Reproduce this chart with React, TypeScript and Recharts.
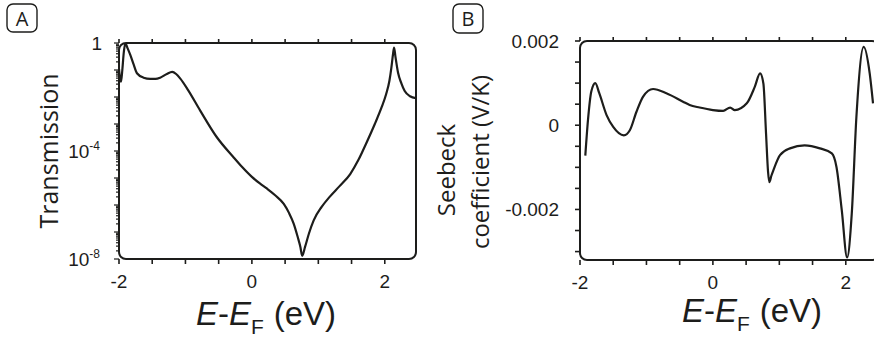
import React from "react";
import { LineChart, Line, XAxis, YAxis, ReferenceArea } from "recharts";

// panel A: transmission vs energy (log scale)
const energyA = [
  -2.0, -1.985, -1.97, -1.95, -1.93, -1.905, -1.87, -1.83, -1.78, -1.73, -1.63,
  -1.53, -1.45, -1.38, -1.28, -1.2, -1.14, -1.08, -0.96, -0.78, -0.53, -0.28,
  -0.15, 0, 0.12, 0.23, 0.35, 0.48, 0.56, 0.63, 0.69, 0.73, 0.757, 0.8, 0.86,
  0.93, 1.05, 1.17, 1.32, 1.48, 1.6, 1.72, 1.85, 1.95, 2.02, 2.07, 2.1, 2.125,
  2.14, 2.16, 2.2, 2.25, 2.3, 2.38, 2.47,
];
const transmission = [
  1.1e-1, 5.0e-2, 3.7e-2, 1.0e-1, 4.0e-1, 9.8e-1, 6.3e-1, 3.6e-1, 1.6e-1, 7.6e-2,
  5.2e-2, 4.7e-2, 4.7e-2, 5.2e-2, 7.1e-2, 8.5e-2, 7.1e-2, 4.9e-2, 1.8e-2, 3.2e-3,
  3.3e-4, 6.0e-5, 2.6e-5, 1.1e-5, 6.3e-6, 4.0e-6, 2.3e-6, 1.1e-6, 5.0e-7, 2.0e-7,
  6.5e-8, 2.8e-8, 1.3e-8, 2.8e-8, 9.0e-8, 2.7e-7, 8.5e-7, 2.0e-6, 5.0e-6, 1.4e-5,
  4.5e-5, 1.9e-4, 1.0e-3, 4.0e-3, 1.26e-2, 4.0e-2, 1.26e-1, 4.0e-1, 6.8e-1,
  3.2e-1, 7.9e-2, 3.2e-2, 1.66e-2, 1.07e-2, 9.1e-3,
];

// panel B: Seebeck coefficient vs energy
const energyB = [
  -1.92, -1.88, -1.83, -1.77, -1.71, -1.6, -1.5, -1.34, -1.25, -1.15, -1.05, -0.9,
  -0.7, -0.45, -0.35, -0.2, 0, 0.155, 0.26, 0.33, 0.51, 0.63, 0.71, 0.76, 0.8,
  0.83, 0.85, 0.88, 0.91, 1.01, 1.16, 1.38, 1.61, 1.79, 1.86, 1.94, 2.02, 2.09,
  2.16, 2.27, 2.36, 2.41,
];
const seebeck = [
  -7.2e-4, 1.2e-4, 8.0e-4, 1.0e-3, 7.6e-4, 2.4e-4, -4e-5, -2.4e-4, -1.2e-4, 3.2e-4,
  6.8e-4, 8.6e-4, 7.6e-4, 5.6e-4, 4.8e-4, 4.2e-4, 3.6e-4, 3.4e-4, 4.2e-4, 3.6e-4,
  5.2e-4, 9.1e-4, 1.23e-3, 9.9e-4, -2.0e-4, -1.1e-3, -1.35e-3, -1.2e-3, -1.07e-3,
  -7.1e-4, -5.5e-4, -4.8e-4, -5.5e-4, -6.7e-4, -9.9e-4, -2.02e-3, -3.14e-3,
  -2.1e-3, 2.0e-4, 1.86e-3, 1.23e-3, 5.2e-4,
];

const energyTicks = [-2, -1.5, -1, -0.5, 0, 0.5, 1, 1.5, 2];
const energyLabels = [-2, 0, 2];

const decades = [1e-8, 1e-7, 1e-6, 1e-5, 1e-4, 1e-3, 1e-2, 1e-1, 1];
const transmissionLabels = [1e-8, 1e-4, 1];
const transmissionTicks = decades.concat(
  decades.slice(0, -1).flatMap((d) => [2, 3, 4, 5, 6, 7, 8, 9].map((m) => m * d))
);

const seebeckTicks = [
  -0.003, -0.0025, -0.002, -0.0015, -0.001, -0.0005, 0, 0.0005, 0.001, 0.0015, 0.002,
];
const seebeckLabels = [-0.002, 0, 0.002];

const dataA = energyA.map((e, i) => ({ e, t: transmission[i] }));
const dataB = energyB.map((e, i) => ({ e, s: seebeck[i] }));

const INK = "#1d1d1b";
const TICK_FONT = "'Liberation Sans', Arial, sans-serif";
const TITLE_FONT = "'Open Sans', sans-serif";

const near = (list: number[], v: number) =>
  list.some((l) => Math.abs(l - v) <= Math.max(1e-12, Math.abs(l) * 1e-6));

const BottomTick = (props: any) => {
  const { x, y, payload } = props;
  const v = payload.value;
  return (
    <g>
      <line x1={x} x2={x} y1={y} y2={y + 5} stroke={INK} strokeWidth={1.6} />
      {near(energyLabels, v) && (
        <text x={x} y={y + 29} textAnchor="middle" fontSize={19} fontFamily={TICK_FONT} fill={INK}>
          {v}
        </text>
      )}
    </g>
  );
};

const TopTick = (props: any) => {
  const { x, y } = props;
  return <line x1={x} x2={x} y1={y} y2={y - 4} stroke={INK} strokeWidth={1.6} />;
};

const LogTick = (props: any) => {
  const { x, y, payload } = props;
  const v = payload.value;
  const major = near(decades, v);
  let label: React.ReactNode = null;
  if (near(transmissionLabels, v)) {
    const exp = Math.round(Math.log10(v));
    label =
      exp === 0 ? (
        <text x={x - 17} y={y + 7} textAnchor="end" fontSize={19} fontFamily={TICK_FONT} fill={INK}>
          1
        </text>
      ) : (
        <text x={x - 19} y={y + 7} textAnchor="end" fontSize={19} fontFamily={TICK_FONT} fill={INK}>
          10
          <tspan fontSize={12} dy={-8}>
            {exp}
          </tspan>
        </text>
      );
  }
  return (
    <g>
      <line x1={x} x2={x - (major ? 5 : 3)} y1={y} y2={y} stroke={INK} strokeWidth={1.2} />
      {label}
    </g>
  );
};

const LinTick = (props: any) => {
  const { x, y, payload } = props;
  const v = payload.value;
  return (
    <g>
      <line x1={x} x2={x - 5} y1={y} y2={y} stroke={INK} strokeWidth={1.6} />
      {near(seebeckLabels, v) && (
        <text x={x - 21} y={y + 7} textAnchor="end" fontSize={19} fontFamily={TICK_FONT} fill={INK}>
          {v === 0 ? "0" : v.toFixed(3)}
        </text>
      )}
    </g>
  );
};

const Frame = (props: any) => {
  const { x, y, width, height } = props;
  return <rect x={x} y={y} width={width} height={height} rx={7} ry={7} fill="none" stroke={INK} strokeWidth={2} />;
};

const EnergyTitle = ({ x, y }: { x: number; y: number }) => (
  <text x={x} y={y} textAnchor="middle" fontSize={33} fontFamily={TICK_FONT} fill={INK}>
    <tspan fontStyle="italic">E</tspan>-<tspan fontStyle="italic">E</tspan>
    <tspan fontSize={21} dy={9}>F</tspan>
    <tspan dy={-9} dx={10}>(eV)</tspan>
  </text>
);

export default function App() {
  return (
    <div style={{ position: "absolute", left: 0, top: 0, width: 874, height: 342, overflow: "hidden", background: "#fff" }}>
      <div style={{ position: "absolute", left: 0, top: 0 }}>
        <LineChart width={440} height={342} data={dataA} margin={{ top: 42, right: 24, bottom: 82, left: 118 }}>
          <XAxis xAxisId="bottom" dataKey="e" type="number" domain={[-2, 2.47]} allowDataOverflow
            ticks={energyTicks} interval={0} height={1} axisLine={false} tickLine={false}
            tickSize={0} tickMargin={0} tick={<BottomTick />} />
          <XAxis xAxisId="top" orientation="top" dataKey="e" type="number" domain={[-2, 2.47]} allowDataOverflow
            ticks={energyTicks} interval={0} height={1} axisLine={false} tickLine={false}
            tickSize={0} tickMargin={0} tick={<TopTick />} />
          <YAxis yAxisId="t" scale="log" type="number" domain={[1e-8, 1]} allowDataOverflow
            ticks={transmissionTicks} interval={0} width={1} axisLine={false} tickLine={false}
            tickSize={0} tickMargin={0} tick={<LogTick />} />
          <Line xAxisId="bottom" yAxisId="t" dataKey="t" type="monotone" stroke={INK} strokeWidth={2.2}
            dot={false} activeDot={false} isAnimationActive={false} />
          <ReferenceArea xAxisId="bottom" yAxisId="t" x1={-2} x2={2.47} y1={1e-8} y2={1}
            ifOverflow="visible" shape={<Frame />} />
        </LineChart>
      </div>
      <div style={{ position: "absolute", left: 430, top: 0 }}>
        <LineChart width={460} height={342} data={dataB} margin={{ top: 40, right: 11, bottom: 81, left: 149 }}>
          <XAxis xAxisId="bottom" dataKey="e" type="number" domain={[-2, 2.5]} allowDataOverflow
            ticks={energyTicks} interval={0} height={1} axisLine={false} tickLine={false}
            tickSize={0} tickMargin={0} tick={<BottomTick />} />
          <XAxis xAxisId="top" orientation="top" dataKey="e" type="number" domain={[-2, 2.5]} allowDataOverflow
            ticks={energyTicks} interval={0} height={1} axisLine={false} tickLine={false}
            tickSize={0} tickMargin={0} tick={<TopTick />} />
          <YAxis yAxisId="s" type="number" domain={[-0.0032, 0.002]} allowDataOverflow
            ticks={seebeckTicks} interval={0} width={1} axisLine={false} tickLine={false}
            tickSize={0} tickMargin={0} tick={<LinTick />} />
          <Line xAxisId="bottom" yAxisId="s" dataKey="s" type="monotone" stroke={INK} strokeWidth={2.2}
            dot={false} activeDot={false} isAnimationActive={false} />
          <ReferenceArea xAxisId="bottom" yAxisId="s" x1={-2} x2={2.5} y1={-0.0032} y2={0.002}
            ifOverflow="visible" shape={<Frame />} />
        </LineChart>
      </div>
      <svg width={874} height={342} style={{ position: "absolute", left: 0, top: 0, pointerEvents: "none" }}>
        <rect x={7} y={4} width={30} height={28} rx={6} fill="none" stroke={INK} strokeWidth={1.4} />
        <text x={22} y={25.5} textAnchor="middle" fontSize={20} fontFamily={TITLE_FONT} fill={INK}>A</text>
        <rect x={453} y={4} width={30} height={29} rx={6} fill="none" stroke={INK} strokeWidth={1.4} />
        <text x={468} y={26} textAnchor="middle" fontSize={20} fontFamily={TITLE_FONT} fill={INK}>B</text>
        <text x={58} y={151} transform="rotate(-90 58 151)" textAnchor="middle" fontSize={25}
          fontFamily={TITLE_FONT} fill={INK}>Transmission</text>
        <text x={455} y={170} transform="rotate(-90 455 170)" textAnchor="middle" fontSize={24}
          fontFamily={TITLE_FONT} fill={INK}>Seebeck</text>
        <text x={489} y={162} transform="rotate(-90 489 162)" textAnchor="middle" fontSize={24}
          fontFamily={TITLE_FONT} fill={INK}>coefficient (V/K)</text>
        <EnergyTitle x={266} y={325} />
        <EnergyTitle x={752} y={322} />
      </svg>
    </div>
  );
}
